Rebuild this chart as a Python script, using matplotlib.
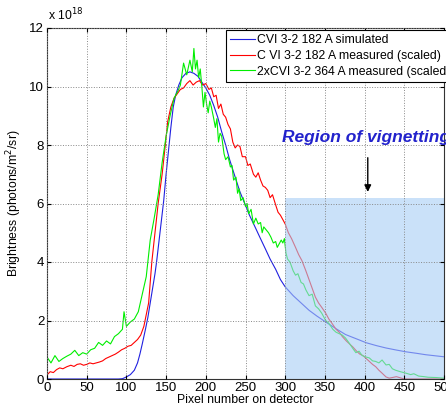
import numpy as np
import matplotlib.pyplot as plt
from matplotlib.patches import Rectangle

plt.rcParams['font.family'] = ['Liberation Sans', 'DejaVu Sans']

# brightness in units of 1e18 photons/m^2/sr
sim_x = [0, 90, 95, 100, 105, 110, 114, 117, 120, 124, 127, 130, 133, 136, 138, 141, 144,
         147, 150, 153, 156, 159, 162, 166, 170, 175, 180, 185, 190, 195, 200, 205, 210,
         215, 220, 225, 230, 237, 243, 249, 255, 262, 268, 275, 281, 288, 294, 300, 310,
         320, 330, 340, 351, 364, 376, 390, 402, 415, 427, 440, 452, 465, 477, 490, 500]
sim_y = [0, 0, 0.01, 0.07, 0.15, 0.3, 0.55, 0.85, 1.2, 1.7, 2.1, 2.6, 3.1, 3.6, 4.0, 4.7, 5.4,
         6.1, 7.0, 7.8, 8.6, 9.3, 9.7, 10.05, 10.3, 10.45, 10.5, 10.45, 10.35, 10.15, 9.95, 9.7, 9.35,
         8.95, 8.45, 8.0, 7.5, 6.9, 6.4, 6.0, 5.6, 5.2, 4.85, 4.45, 4.1, 3.75, 3.4, 3.15, 2.85,
         2.6, 2.35, 2.15, 1.95, 1.72, 1.52, 1.37, 1.24, 1.14, 1.06, 0.99, 0.93, 0.88, 0.83, 0.79, 0.76]

c6_x = [0, 4, 8, 12, 16, 20, 25, 30, 34, 38, 42, 46, 50, 54, 58, 62, 66, 70, 74, 78, 82, 86,
        90, 94, 98, 102, 106, 110, 114, 118, 122, 125, 128, 132, 136, 140, 145, 149, 152, 156,
        160, 164, 168, 172, 176, 180, 184, 188, 192, 196, 200, 204, 207, 210, 213, 216, 219,
        222, 225, 228, 231, 234, 237, 240, 243, 246, 250, 253, 256, 260, 263, 266, 269, 272,
        275, 278, 281, 284, 288, 291, 294, 297, 300, 304, 308, 313, 317, 321, 326, 330, 334,
        338, 342, 346, 351, 355, 359, 364, 368, 372, 377, 381, 385, 390, 394, 398, 402, 406,
        410, 414, 418, 422, 427, 431, 435, 440, 445, 450, 500]
c6_y = [0.14, 0.25, 0.22, 0.32, 0.38, 0.35, 0.42, 0.47, 0.43, 0.5, 0.52, 0.47, 0.5, 0.55, 0.52,
        0.55, 0.58, 0.62, 0.7, 0.75, 0.8, 0.85, 0.92, 1.0, 1.05, 1.12, 1.15, 1.25, 1.35, 1.5, 1.8,
        2.2, 2.6, 4.0, 5.0, 6.0, 7.0, 8.0, 8.8, 9.3, 9.6, 9.75, 9.9, 9.95, 10.1, 10.2, 10.05,
        10.15, 10.2, 10.05, 10.1, 9.9, 9.95, 9.65, 9.7, 9.25, 9.4, 9.05, 8.95, 8.7, 8.55, 8.1,
        7.9, 8.0, 7.95, 7.6, 7.6, 7.3, 7.35, 7.0, 6.9, 7.05, 6.8, 6.6, 6.55, 6.45, 6.2, 6.3,
        5.95, 5.7, 5.6, 5.45, 5.3, 5.0, 4.8, 4.5, 4.25, 4.05, 3.7, 3.4, 3.1, 2.8, 2.6, 2.45,
        2.25, 2.05, 1.9, 1.7, 1.6, 1.45, 1.3, 1.2, 1.1, 0.95, 0.85, 0.8, 0.7, 0.6, 0.5, 0.42,
        0.3, 0.2, 0.07, 0.03, 0.05, 0.08, 0.04, 0.0, 0.0]

g2_x = [0, 5, 10, 15, 20, 25, 30, 35, 40, 45, 50, 55, 60, 65, 70, 75, 80, 85, 90, 95, 97, 100,
        105, 110, 115, 120, 125, 130, 135, 140, 145, 150, 155, 160, 165, 168, 172, 176, 180,
        183, 185, 187, 189, 191, 193, 195, 197, 199, 201, 203, 205, 207, 210, 212, 214, 216,
        218, 220, 223, 225, 228, 231, 233, 235, 238, 240, 242, 244, 247, 250, 252, 254, 257,
        260, 263, 266, 269, 271, 273, 276, 279, 282, 285, 288, 290, 292, 295, 297, 299, 301,
        303, 306, 310, 313, 316, 320, 323, 326, 330, 334, 338, 342, 346, 351, 355, 360, 364,
        368, 372, 376, 380, 385, 389, 393, 397, 402, 406, 410, 414, 418, 422, 427, 431, 435,
        439, 445, 452, 458, 462, 468, 475, 480, 490, 500]
g2_y = [0.75, 0.55, 0.8, 0.6, 0.7, 0.78, 0.85, 0.98, 0.8, 0.9, 0.85, 1.0, 1.05, 1.25, 1.15,
        1.3, 1.2, 1.45, 1.55, 1.7, 2.3, 1.8, 1.95, 2.05, 2.3, 2.9, 3.5, 4.75, 5.5, 6.3, 7.4, 8.3,
        9.0, 9.6, 9.85, 10.05, 10.8, 10.4, 10.9, 10.5, 11.3, 10.6, 10.9, 10.3, 10.6, 10.0, 9.3,
        9.8, 9.4, 9.1, 9.5, 9.3, 8.9, 8.6, 8.9, 8.1, 8.4, 8.3, 7.7, 7.5, 7.6, 7.25, 7.3, 6.8,
        6.9, 6.35, 6.5, 6.1, 6.2, 5.9, 6.0, 5.65, 5.8, 5.3, 5.5, 5.3, 5.35, 5.0, 5.2, 5.1, 5.0,
        4.85, 4.65, 4.7, 4.5, 4.6, 4.75, 4.65, 4.8, 4.3, 4.1, 4.0, 3.7, 3.55, 3.6, 3.3, 3.25,
        3.05, 2.85, 2.9, 2.5, 2.4, 2.25, 2.0, 1.9, 1.7, 1.6, 1.55, 1.5, 1.4, 1.25, 1.05, 0.9,
        0.95, 0.8, 0.75, 0.72, 0.62, 0.6, 0.55, 0.65, 0.48, 0.5, 0.35, 0.3, 0.25, 0.2, 0.15,
        0.18, 0.1, 0.08, 0.06, 0.05, 0.03]

vig_start, vig_top = 300, 6.2

fig = plt.figure(figsize=(4.46, 4.05), dpi=100)
ax = fig.add_axes([47/446, 1-379/405, (444-47)/446, (379-28)/405])

ax.plot(sim_x, sim_y, color='#2020e0', lw=0.8, label='CVI 3-2 182 A simulated', zorder=2)
ax.plot(c6_x, c6_y, color='#ff0000', lw=0.8, label='C VI 3-2 182 A measured (scaled)', zorder=2)
ax.plot(g2_x, g2_y, color='#00ee00', lw=0.8, label='2xCVI 3-2 364 A measured (scaled)', zorder=2)

ax.add_patch(Rectangle((vig_start, 0), 500 - vig_start, vig_top,
                       facecolor='#a8cdf5', alpha=0.6, edgecolor='none', zorder=2.2))

ax.set_xlim(0, 500)
ax.set_ylim(0, 12)
ax.set_xticks(np.arange(0, 501, 50))
ax.set_yticks(np.arange(0, 13, 2))
ax.set_axisbelow(False)
ax.grid(True, linestyle=':', color='#888888', lw=0.7)
ax.tick_params(direction='in', top=True, right=True, labelsize=9.5, length=3, pad=2)
for s in ax.spines.values():
    s.set_color('#333333')
    s.set_linewidth(0.8)

ax.set_xlabel('Pixel number on detector', fontsize=8.8, labelpad=0)
ax.set_ylabel('Brightness (photons/m$^2$/sr)', fontsize=8.8, labelpad=4)
ax.text(0.003, 1.012, 'x 10$^{18}$', transform=ax.transAxes, fontsize=8.8, va='bottom')

ax.text(296, 8.27, 'Region of vignetting', color='#2222cc', fontsize=12.5,
        fontweight='bold', fontstyle='italic', va='center', zorder=5)
ax.annotate('', xy=(404, 6.3), xytext=(404, 7.66),
            arrowprops=dict(arrowstyle='-|>', color='black', lw=1, mutation_scale=10), zorder=5)

leg = ax.legend(loc='upper left', bbox_to_anchor=(0.451, 0.994), fontsize=8.8,
                frameon=True, fancybox=False, edgecolor='black', framealpha=1,
                borderpad=0.35, labelspacing=0.3, handlelength=2.0, handletextpad=0.2,
                borderaxespad=0)
leg.get_frame().set_linewidth(0.8)
leg.set_zorder(6)

fig.savefig('out.png', dpi=100)
